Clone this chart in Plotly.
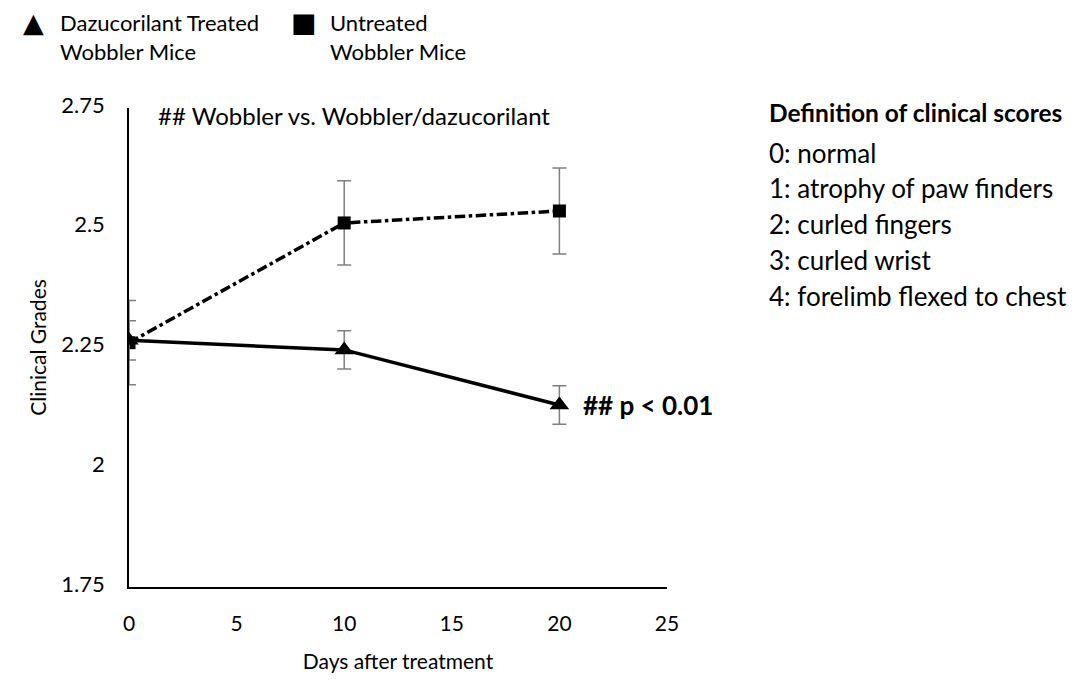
import plotly.graph_objects as go

days = [0, 10, 20]
treated = [2.265, 2.245, 2.13]
treated_err = [0.041, 0.04, 0.04]
untreated = [2.26, 2.51, 2.535]
untreated_err = [0.088, 0.088, 0.09]
score_defs = ["0: normal", "1: atrophy of paw finders", "2: curled fingers",
              "3: curled wrist", "4: forelimb flexed to chest"]
legend_names = ["Dazucorilant Treated<br>Wobbler Mice", "Untreated<br>Wobbler Mice"]
legend_symbols = ["▲", "■"]
x_ticks = [0, 5, 10, 15, 20, 25]
y_ticks = [1.75, 2, 2.25, 2.5, 2.75]
y_tick_text = ["1.75", "2", "2.25", "2.5", "2.75"]

FONT = "Lato"
L, R, T, B = 129, 412, 108, 80
W, H = 1079, 682
PW, PH = W - L - R, H - T - B


def px(xp):
    return (xp - L) / PW


def py(yp):
    return (H - B - yp) / PH


fig = go.Figure()
fig.add_trace(go.Scatter(
    x=days, y=untreated, mode="lines+markers", showlegend=False,
    line=dict(color="black", width=3.5, dash="dashdot"),
    marker=dict(symbol="square", size=13, color="black"),
    error_y=dict(type="data", array=untreated_err, color="#808080", thickness=1.5, width=7),
))
fig.add_trace(go.Scatter(
    x=days, y=treated, mode="lines+markers", showlegend=False,
    line=dict(color="black", width=3.5),
    marker=dict(symbol="triangle-up", size=17, color="black"),
    error_y=dict(type="data", array=treated_err, color="#808080", thickness=1.5, width=7),
))

fig.update_layout(
    width=W, height=H,
    margin=dict(l=L, r=R, t=T, b=B),
    plot_bgcolor="white", paper_bgcolor="white",
    font=dict(family=FONT, size=20, color="black"),
    showlegend=False,
    xaxis=dict(range=[0, 25], tickvals=x_ticks, showgrid=False, zeroline=False,
               showline=True, linecolor="black", linewidth=1.5, ticks="",
               ticklabelstandoff=17,
               title=dict(text="Days after treatment", font=dict(size=21), standoff=20),
               tickfont=dict(size=21)),
    yaxis=dict(range=[1.75, 2.75], tickvals=y_ticks, ticktext=y_tick_text,
               showgrid=False, zeroline=False,
               showline=True, linecolor="black", linewidth=1.5, ticks="",
               ticklabelstandoff=18, ticklabelshift=-3,
               title=dict(text="Clinical Grades", font=dict(size=21), standoff=9),
               tickfont=dict(size=22)),
)

# legend drawn as text
sym_x = [33, 304]
txt_x = [58, 328]
for sx, tx, sym, name in zip(sym_x, txt_x, legend_symbols, legend_names):
    fig.add_annotation(xref="paper", yref="paper", x=px(sx), y=py(20), xanchor="center",
                       yanchor="middle", text=sym, showarrow=False,
                       font=dict(size=27, family="DejaVu Sans"))
    fig.add_annotation(xref="paper", yref="paper", x=px(tx), y=py(4), xanchor="left",
                       yanchor="top", align="left", text=name, showarrow=False,
                       font=dict(size=22, family=FONT))

fig.add_annotation(xref="paper", yref="paper", x=px(156), y=py(116), xanchor="left", yanchor="middle",
                   text="## Wobbler vs. Wobbler/dazucorilant", showarrow=False,
                   font=dict(size=24, family=FONT))
fig.add_annotation(x=days[-1], y=treated[-1], xref="x", yref="y", xanchor="left", yanchor="middle",
                   xshift=22, text="<b>## p < 0.01</b>", showarrow=False,
                   font=dict(size=26, family=FONT))

fig.add_annotation(xref="paper", yref="paper", x=px(767), y=py(113), xanchor="left", yanchor="middle",
                   text="<b>Definition of clinical scores</b>", showarrow=False,
                   font=dict(size=24.5, family=FONT))
for i, s in enumerate(score_defs):
    fig.add_annotation(xref="paper", yref="paper", x=px(767), y=py(154 + i * 37),
                       xanchor="left", yanchor="middle", text=s, showarrow=False,
                       font=dict(size=26, family=FONT))

fig.write_html("out.html")
